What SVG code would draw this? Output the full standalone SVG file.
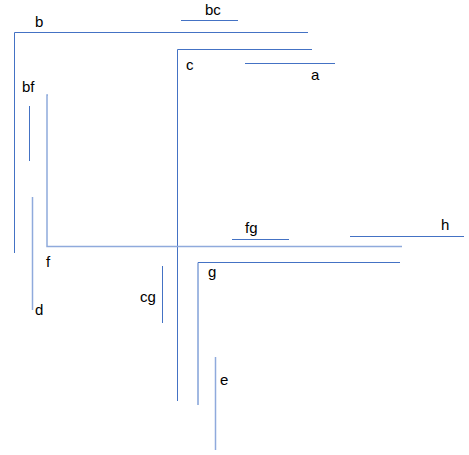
<svg xmlns="http://www.w3.org/2000/svg" width="469" height="455" viewBox="0 0 469 455">
<style>
.ln{fill:none;stroke:#4472C4;stroke-width:1}
.lt{fill:none;stroke:#8FAADC;stroke-width:1.5}
text{font-family:"Liberation Sans",Arial,sans-serif;font-size:15px;fill:#000}
</style>
<rect width="469" height="455" fill="#fff"/>
<g id="b"><path class="ln" d="M308,32.5 H14.5 V253"/><text x="35" y="27">b</text></g>
<g id="bc"><path class="ln" d="M181,20.5 H238"/><text x="205" y="15">bc</text></g>
<g id="c"><path class="ln" d="M312,49.5 H177.5 V401"/><text x="186" y="70">c</text></g>
<g id="a"><path class="ln" d="M245,63.5 H335"/><text x="311" y="80">a</text></g>
<g id="bf"><path class="ln" d="M29.5,106 V161"/><text x="22" y="92">bf</text></g>
<g id="f"><path class="lt" d="M48,95 H47 V246.5 H402"/><text x="46" y="267">f</text></g>
<g id="d"><path class="lt" d="M32.5,197 V310"/><text x="35" y="315">d</text></g>
<g id="cg"><path class="ln" d="M162.5,266 V323"/><text x="140" y="302">cg</text></g>
<g id="g"><path class="ln" d="M400,262.5 H198 V405"/><text x="208" y="277">g</text></g>
<g id="e"><path class="lt" d="M215.5,357 V450"/><text x="220" y="385">e</text></g>
<g id="fg"><path class="ln" d="M232,239.5 H289"/><text x="245" y="233">fg</text></g>
<g id="h"><path class="ln" d="M350,236.5 H464"/><text x="441" y="230">h</text></g>
<g id="connectors"></g>
</svg>
